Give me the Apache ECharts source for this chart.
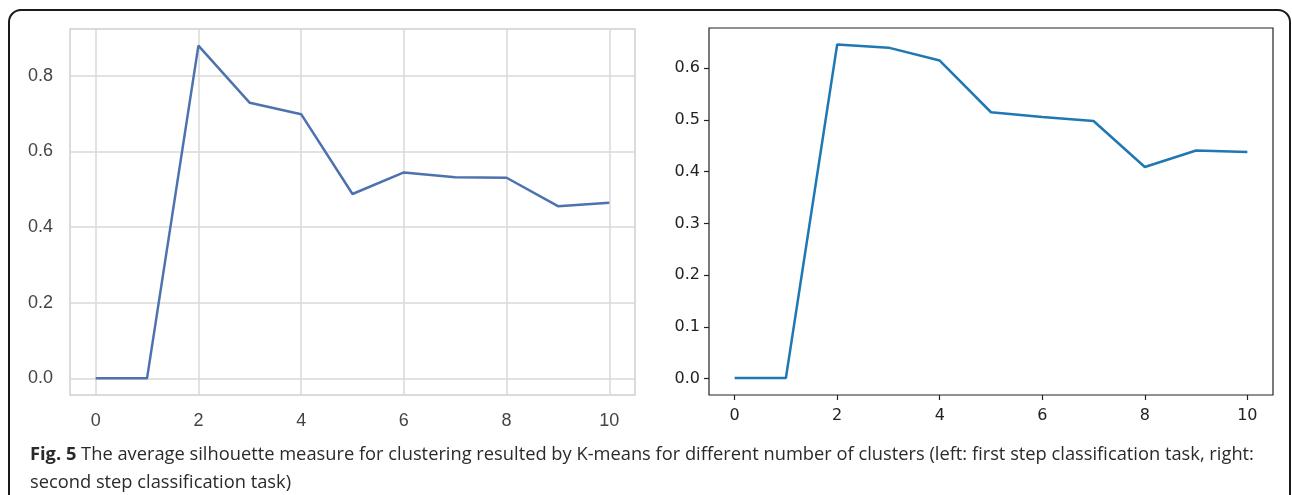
<!DOCTYPE html>
<html>
<head>
<meta charset="utf-8">
<script src="https://cdn.jsdelivr.net/npm/echarts@6/dist/echarts.min.js"></script>
<style>
  html, body { margin: 0; padding: 0; background: #fff; }
  #chart { width: 1292px; height: 495px; }
</style>
</head>
<body>
<div id="chart"></div>
<script>
// number of clusters on x
var clusters = [0, 1, 2, 3, 4, 5, 6, 7, 8, 9, 10]
// left: first step classification task
var silhouetteFirst = [0, 0, 0.879, 0.728, 0.698, 0.487, 0.544, 0.531, 0.530, 0.455, 0.464]
// right: second step classification task
var silhouetteSecond = [0.001, 0.001, 0.646, 0.640, 0.615, 0.515, 0.506, 0.498, 0.409, 0.441, 0.438]

var xTicks = [0, 2, 4, 6, 8, 10]
var yTicksLeft = [0, 0.2, 0.4, 0.6, 0.8]
var yTicksRight = [0, 0.1, 0.2, 0.3, 0.4, 0.5, 0.6]

function pairs (xs, ys) {
  return xs.map(function (x, i) { return [x, ys[i]] })
}

var chart = echarts.init(document.getElementById('chart'))
chart.setOption({
  animation: false,
  // outer rounded frame of the figure
  graphic: [{
    type: 'rect',
    shape: { x: 9, y: 10, width: 1281, height: 600, r: 12 },
    style: { fill: 'none', stroke: '#1a1a1a', lineWidth: 2 },
    silent: true
  }],
  title: {
    left: 25,
    top: 436,
    text: '{b|Fig. 5} The average silhouette measure for clustering resulted by K-means for different number of clusters (left: first step classification task, right:\nsecond step classification task)',
    textStyle: {
      fontFamily: 'Open Sans',
      fontSize: 18.3,
      fontWeight: 'normal',
      color: '#2a2a2a',
      lineHeight: 28,
      rich: {
        b: { fontFamily: 'Open Sans', fontSize: 18.3, fontWeight: 'bold', color: '#2a2a2a', lineHeight: 28 }
      }
    }
  },
  grid: [{
    left: 70, right: 657, top: 29, bottom: 100,
    show: true, borderColor: '#d0d0d0', borderWidth: 1.5
  }, {
    left: 709, right: 19, top: 28, bottom: 100,
    show: true, borderColor: '#222', borderWidth: 1.2
  }],
  xAxis: [{
    type: 'value', gridIndex: 0, min: -0.5, max: 10.5,
    axisLine: { show: false, onZero: false },
    axisTick: { show: false, customValues: xTicks },
    axisLabel: { customValues: xTicks, margin: 17, fontFamily: 'Liberation Sans', fontSize: 18, color: '#444' },
    splitLine: { show: true, lineStyle: { color: '#d8d8d8', width: 1.5 } }
  }, {
    type: 'value', gridIndex: 1, min: -0.5, max: 10.5,
    axisLine: { show: false, onZero: false },
    axisTick: { show: true, inside: false, length: 5, customValues: xTicks, lineStyle: { color: '#222', width: 1.2 } },
    axisLabel: { customValues: xTicks, margin: 13, fontFamily: 'DejaVu Sans', fontSize: 16, color: '#222' },
    splitLine: { show: false }
  }],
  yAxis: [{
    type: 'value', gridIndex: 0, min: -0.044, max: 0.923,
    axisLine: { show: false, onZero: false },
    axisTick: { show: false, customValues: yTicksLeft },
    axisLabel: {
      customValues: yTicksLeft, margin: 17, fontFamily: 'Liberation Sans', fontSize: 18, color: '#444',
      formatter: function (v) { return v.toFixed(1) }
    },
    splitLine: { show: true, lineStyle: { color: '#d8d8d8', width: 1.5 } }
  }, {
    type: 'value', gridIndex: 1, min: -0.032, max: 0.678,
    axisLine: { show: false, onZero: false },
    axisTick: { show: true, inside: false, length: 5, customValues: yTicksRight, lineStyle: { color: '#222', width: 1.2 } },
    axisLabel: {
      customValues: yTicksRight, margin: 9, fontFamily: 'DejaVu Sans', fontSize: 16, color: '#222',
      formatter: function (v) { return v.toFixed(1) }
    },
    splitLine: { show: false }
  }],
  series: [{
    type: 'line',
    xAxisIndex: 0, yAxisIndex: 0,
    showSymbol: false,
    data: pairs(clusters, silhouetteFirst),
    lineStyle: { color: '#4c72b0', width: 2.5 },
    itemStyle: { color: '#4c72b0' }
  }, {
    type: 'line',
    xAxisIndex: 1, yAxisIndex: 1,
    showSymbol: false,
    data: pairs(clusters, silhouetteSecond),
    lineStyle: { color: '#1f77b4', width: 2.5 },
    itemStyle: { color: '#1f77b4' }
  }]
})
</script>
</body>
</html>
